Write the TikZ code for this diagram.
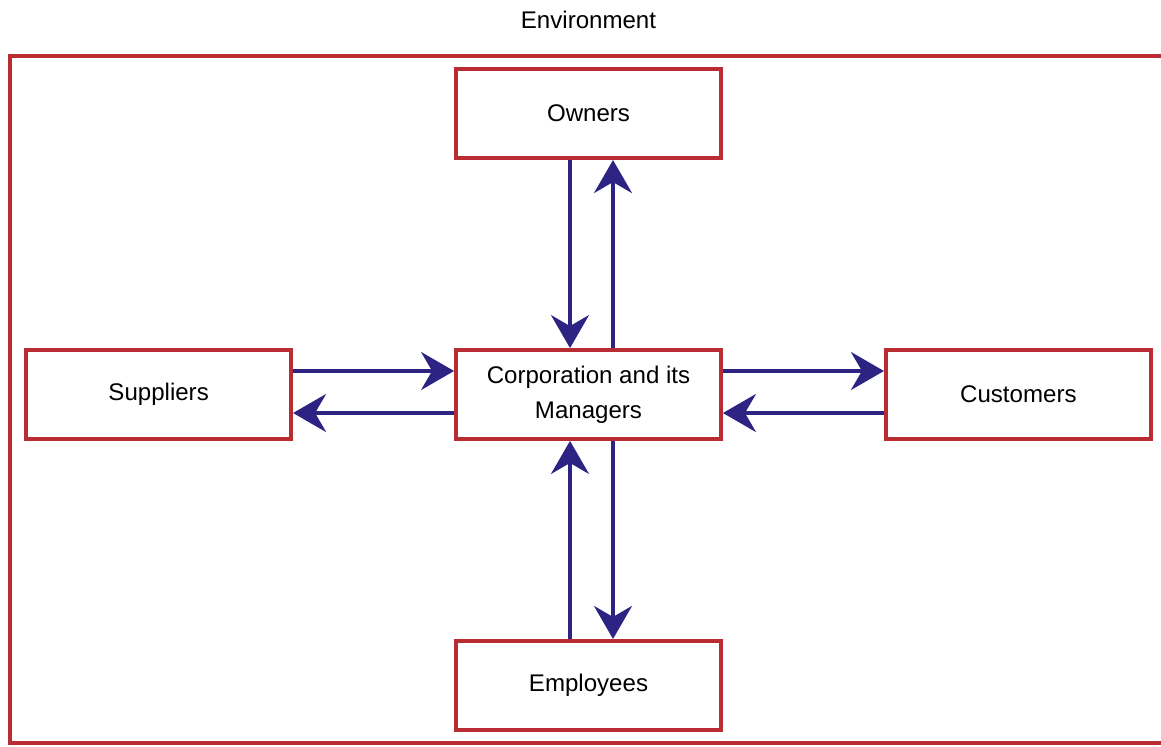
\documentclass[tikz,border=0pt]{standalone}
\usepackage{fontspec}
\setmainfont{Liberation Sans}
\usetikzlibrary{arrows.meta,positioning}
\definecolor{boxred}{RGB}{185,45,50}
\definecolor{flownavy}{RGB}{45,35,130}

\begin{document}
\begin{tikzpicture}[
    party/.style={draw=boxred, line width=2.2pt, rectangle, minimum width=5.3cm, minimum height=1.78cm, align=center, font=\fontsize{13.7}{20}\selectfont},
    flow/.style={draw=flownavy, line width=1.8pt, -{Stealth[length=0.66cm, width=0.76cm, inset=0.22cm]}}]
    \useasboundingbox (0,0) rectangle (23.22,-14.92);
    \clip (0,0) rectangle (23.22,-14.92);
    \draw [boxred, line width=2.6pt] (0.2,-1.12) rectangle (24,-14.86);
    \node (env) [font=\fontsize{13.7}{16}\selectfont] at (11.77,-0.4) {Environment};

    \node (corp) [party] at (11.77,-7.89) {Corporation and its\\Managers};
    \node (owners) [party, above=3.76cm of corp] {Owners};
    \node (employees) [party, below=3.96cm of corp] {Employees};
    \node (suppliers) [party, left=3.22cm of corp] {Suppliers};
    \node (customers) [party, right=3.22cm of corp] {Customers};

    \draw [flow] ([xshift=-0.37cm]owners.south) -- ([xshift=-0.37cm]corp.north);
    \draw [flow] ([xshift=0.49cm]corp.north) -- ([xshift=0.49cm]owners.south);
    \draw [flow] ([xshift=-0.37cm]employees.north) -- ([xshift=-0.37cm]corp.south);
    \draw [flow] ([xshift=0.49cm]corp.south) -- ([xshift=0.49cm]employees.north);
    \draw [flow] ([yshift=0.47cm]suppliers.east) -- ([yshift=0.47cm]corp.west);
    \draw [flow] ([yshift=-0.37cm]corp.west) -- ([yshift=-0.37cm]suppliers.east);
    \draw [flow] ([yshift=0.47cm]corp.east) -- ([yshift=0.47cm]customers.west);
    \draw [flow] ([yshift=-0.37cm]customers.west) -- ([yshift=-0.37cm]corp.east);
\end{tikzpicture}
\end{document}
